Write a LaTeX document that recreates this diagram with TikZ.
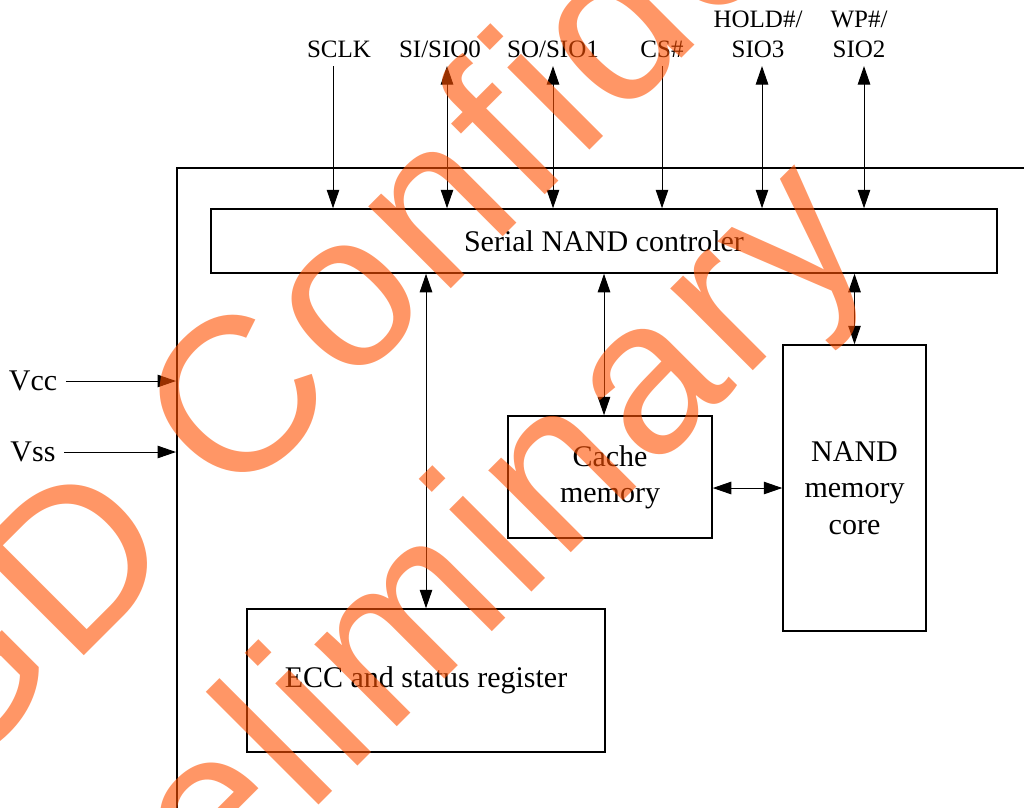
\documentclass[tikz,border=0pt]{standalone}
\usepackage{fontspec}
\setmainfont{Liberation Serif}
\newfontfamily\wmfont[LetterSpace=3]{Liberation Sans}
\usetikzlibrary{arrows.meta,positioning,calc}
\definecolor{wmorange}{RGB}{255,80,0}

\begin{document}
\begin{tikzpicture}[x=0.4pt, y=-0.4pt, >={Triangle[length=7.4pt,width=5pt]},
  blk/.style={draw, line width=0.6pt, align=center, font=\fontsize{12}{14.5}\selectfont},
  pin/.style={font=\fontsize{10}{12}\selectfont, align=center},
  sig/.style={line width=0.4pt},
  wm/.style={text=wmorange, text opacity=0.6, font=\wmfont\fontsize{88}{88}\selectfont, inner sep=0pt, anchor=base west, rotate=45}]

  \useasboundingbox (0,0) rectangle (1024,807);
  \clip (0,0) rectangle (1024,807);

  % chip outline
  \node[draw, line width=0.6pt, anchor=north west, minimum width=400pt, minimum height=300pt, inner sep=0pt] (chip) at (176,167) {};

  % blocks
  \node[blk, minimum width=314.4pt, minimum height=25.6pt] (ctrl) at (604,241) {Serial NAND controler};
  \node[blk, minimum width=81.6pt, minimum height=48.8pt] (cache) at (610,477) {Cache\\memory};
  \node[blk, minimum width=57.2pt, minimum height=114.4pt] (core) at (854.5,488) {NAND\\memory\\core};
  \node[blk, minimum width=143.2pt, minimum height=57.2pt] (ecc) at (426,680.5) {ECC and status register};

  % pins
  \node[pin, anchor=base] (sclk) at (339,57) {SCLK};
  \node[pin, anchor=base] (si) at (440,57) {SI/SIO0};
  \node[pin, anchor=base] (so) at (553,57) {SO/SIO1};
  \node[pin, anchor=base] (cs) at (662,57) {CS\#};
  \node[pin, anchor=base] (hold) at (758,57) {HOLD\#/\\SIO3};
  \node[pin, anchor=base] (wp) at (859,57) {WP\#/\\SIO2};
  \node[font=\fontsize{12}{14}\selectfont] (vcc) at (33,381) {Vcc};
  \node[font=\fontsize{12}{14}\selectfont] (vss) at (33,452) {Vss};

  \draw[sig,->] ([xshift=-2.4pt]sclk.south) -- ([xshift=-2.4pt]sclk.south |- ctrl.north);
  \draw[sig,<->] ([xshift=2.8pt]si.south) -- ([xshift=2.8pt]si.south |- ctrl.north);
  \draw[sig,<->] (so.south) -- (so.south |- ctrl.north);
  \draw[sig,->] (cs.south) -- (cs.south |- ctrl.north);
  \draw[sig,<->] ([xshift=1.6pt]hold.south) -- ([xshift=1.6pt]hold.south |- ctrl.north);
  \draw[sig,<->] ([xshift=2pt]wp.south) -- ([xshift=2pt]wp.south |- ctrl.north);
  \draw[sig,->] (vcc) -- (vcc -| chip.west);
  \draw[sig,->] (vss) -- (vss -| chip.west);

  % internal links
  \draw[sig,<->] (ecc.north |- ctrl.south) -- (ecc.north);
  \draw[sig,<->] ([xshift=-2.4pt]cache.north |- ctrl.south) -- ([xshift=-2.4pt]cache.north);
  \draw[sig,<->] (core.north |- ctrl.south) -- (core.north);
  \draw[sig,<->] (core.west -| cache.east) -- (core.west);

  % watermark
  \node[wm] (wmA) at (-54,794) {GD Confidential};
  \node[wm] (wmB) at (52,1072) {Preliminary};
\end{tikzpicture}
\end{document}
